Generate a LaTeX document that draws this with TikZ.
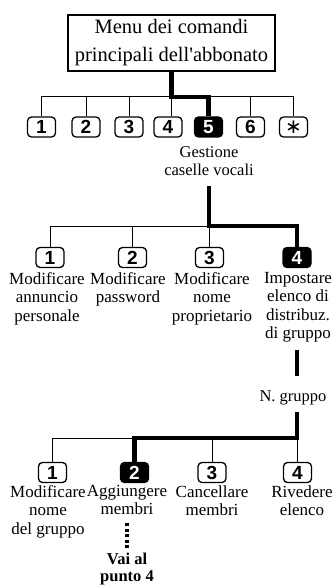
\documentclass[tikz,border=0pt]{standalone}
\usepackage{fontspec}
\setmainfont{Liberation Serif}
\newfontfamily\keyfont{Liberation Sans}
\newfontfamily\symfont{DejaVu Sans}
\begin{document}
\begin{tikzpicture}[x=1pt,y=-1pt,
  key/.style={draw, line width=1.3pt, rounded corners=4pt, minimum width=28pt, minimum height=20pt, inner sep=0pt, font=\keyfont\bfseries\fontsize{19}{19}\selectfont},
  keyon/.style={key, fill=black, text=white},
  lbl/.style={align=center, inner sep=0pt, font=\fontsize{17}{18.5}\selectfont},
  conn/.style={line width=1pt},
  hot/.style={line width=4.5pt}]
\useasboundingbox (0,0) rectangle (334,585);
% top menu
\node[draw, line width=1.2pt, minimum width=207pt, minimum height=56pt, inner sep=0pt, align=center, font=\fontsize{20.5}{28}\selectfont] (menu) at (171.5,43) {Menu dei comandi\\principali dell\textquotesingle abbonato};
% row 1 keys
\node[key] (k1) at (41.5,127) {1};
\node[key] (k2) at (86,127) {2};
\node[key] (k3) at (129,127) {3};
\node[key] (k4) at (168,127) {4};
\node[keyon] (k5) at (208.5,127) {5};
\node[key] (k6) at (250.5,127) {6};
\node[key] (k7) at (293.5,127) {\symfont\mdseries\fontsize{20}{20}\selectfont ∗};
\coordinate (busA) at (0,97);
\draw[conn] (k1.north) |- (k7.north |- busA) -- (k7.north);
\draw[conn] (k2.north) -- (k2.north |- busA);
\draw[conn] (k3.north) -- (k3.north |- busA);
\draw[conn] (k6.north) -- (k6.north |- busA);
\draw[conn] (menu.south |- busA) -- (menu.south |- k4.north);
\draw[hot] (menu.south) -- (menu.south |- busA) -| (k5.north);
\node[lbl, font=\fontsize{16.5}{18}\selectfont] (g5) at (209,161) {Gestione\\caselle vocali};
% row 2
\coordinate (t2) at (209,186);
\coordinate (busB) at (0,226);
\node[key] (m1) at (50,257.5) {1};
\node[key] (m2) at (132.5,257.5) {2};
\node[key] (m3) at (209.5,257.5) {3};
\node[keyon] (m4) at (297,257.5) {4};
\draw[conn] (m1.north) |- (m3.north |- busB) -- (m3.north);
\draw[conn] (m2.north) -- (m2.north |- busB);
\draw[hot] (t2) -- (t2 |- busB) -| (m4.north);
\node[lbl, anchor=north] (l1) at (47,272) {Modificare\\annuncio\\personale};
\node[lbl, anchor=north] (l2) at (128,272) {Modificare\\password};
\node[lbl, anchor=north] (l3) at (212,272) {Modificare\\nome\\proprietario};
\node[lbl, anchor=north] (l4) at (298,272) {Impostare\\elenco di\\distribuz.\\di gruppo};
\coordinate (t4a) at (297,350);
\coordinate (t4b) at (297,376);
\draw[hot] (t4a) -- (t4b);
\node[lbl, font=\fontsize{16.5}{18}\selectfont] (ng) at (293,398) {N. gruppo};
% row 3
\coordinate (t3) at (297,412);
\coordinate (busC) at (0,438);
\node[key] (n1) at (52.5,472.5) {1};
\node[keyon] (n2) at (134.5,472.5) {2};
\node[key] (n3) at (212,472.5) {3};
\node[key] (n4) at (297.5,472.5) {4};
\draw[conn] (n1.north) |- (n2.north |- busC);
\draw[conn] (n3.north) -- (n3.north |- busC);
\draw[conn] (n4.north) -- (n4.north |- busC);
\draw[hot] (t3) -- (t3 |- busC) -| (n2.north);
\node[lbl, anchor=north] (p1) at (48,485) {Modificare\\nome\\del gruppo};
\node[lbl, anchor=north] (p2) at (127,485) {Aggiungere\\membri};
\node[lbl, anchor=north] (p3) at (212,485) {Cancellare\\membri};
\node[lbl, anchor=north] (p4) at (302,485) {Rivedere\\elenco};
\coordinate (d1) at (127,523);
\coordinate (d2) at (127,548);
\draw[line width=4pt, dash pattern=on 3pt off 2.5pt] (d1) -- (d2);
\node[lbl, font=\bfseries\fontsize{16.5}{17}\selectfont] (vai) at (127,569) {Vai al\\punto 4};
\end{tikzpicture}
\end{document}
